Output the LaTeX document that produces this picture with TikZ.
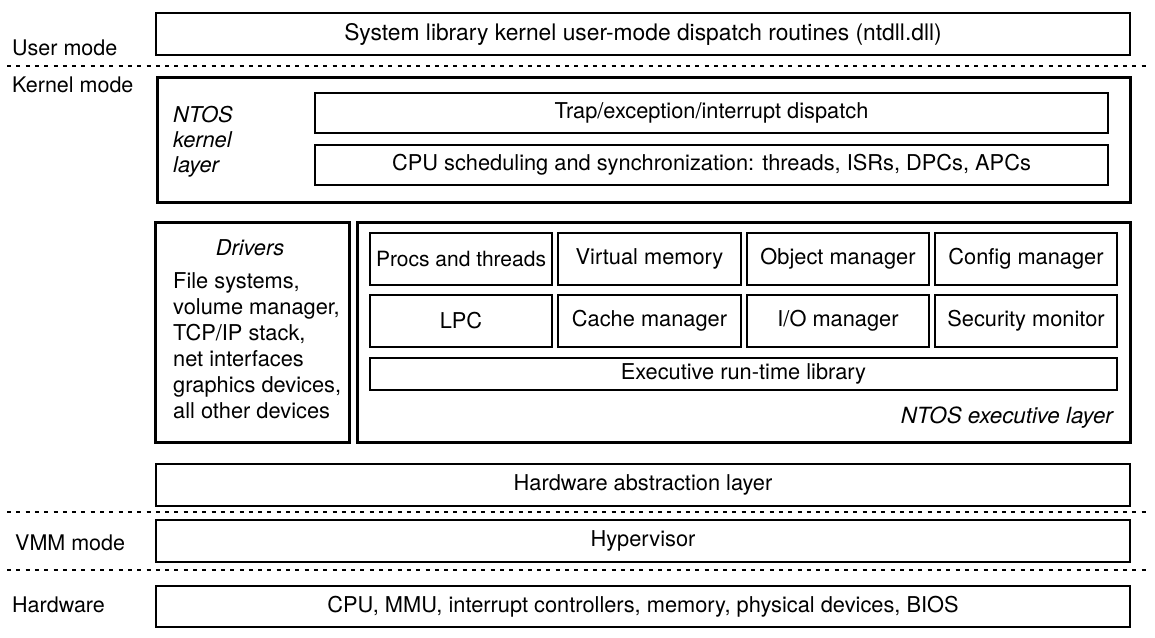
\documentclass[tikz,border=0pt]{standalone}
\usepackage{fontspec}
\setmainfont{TeX Gyre Heros}
\usepackage{tikz}

\begin{document}
\begin{tikzpicture}
[x=1pt,y=-1pt,
box/.style={draw,line width=1.3pt,inner sep=0pt,font=\fontsize{21.8}{26}\selectfont},
layer/.style={draw,line width=3pt,inner sep=0pt},
mode/.style={anchor=base west,inner sep=0pt,font=\fontsize{21.5}{26}\selectfont},
sep/.style={line width=1.2pt,dash pattern=on 4pt off 5.3pt},]
\useasboundingbox (0,0) rectangle (1155,637);

% mode labels
\node (um) at (12,55)[mode]{User mode};
\node (km) at (12,92)[mode]{Kernel mode};
\node (vm) at (15,550)[mode]{VMM mode};
\node (hm) at (12,612)[mode]{Hardware};

% user mode
\node (user) at (643,34)[box,minimum width=974,minimum height=42,font=\fontsize{22.8}{26}\selectfont]{System library kernel user-mode dispatch routines (ntdll.dll)};

% kernel layer
\node (kern) at (643.5,139.5)[layer,minimum width=973,minimum height=125]{};
\node (kname) at (173,106.5)[anchor=north west,inner sep=0pt,align=left,font=\fontsize{21.8}{25}\selectfont\itshape]{NTOS\\kernel\\layer};
\node (trap) at (711.5,113)[box,minimum width=793,minimum height=40]{Trap/exception/interrupt dispatch};
\node (sched) at (711.5,165)[box,minimum width=793,minimum height=40]{CPU scheduling and synchronization: threads, ISRs, DPCs, APCs};

% drivers
\node (drv) at (252,332)[layer,minimum width=194,minimum height=220]{};
\node (dname) at (250,255)[anchor=base,inner sep=0pt,font=\fontsize{21.8}{26}\selectfont\itshape]{Drivers};
\node (dlist) at (173,272.5)[anchor=north west,inner sep=0pt,align=left,font=\fontsize{21.8}{26}\selectfont]{File systems,\\volume manager,\\TCP/IP stack,\\net interfaces\\graphics devices,\\all other devices};

% executive layer
\node (exec) at (743.5,332)[layer,minimum width=773,minimum height=220]{};
\node (procs) at (461,259)[box,minimum width=182,minimum height=52,font=\fontsize{21}{26}\selectfont]{Procs and threads};
\node (virt) at (649.5,259)[box,minimum width=183,minimum height=52]{Virtual memory};
\node (obj) at (838,259)[box,minimum width=182,minimum height=52]{Object manager};
\node (cfg) at (1026,259)[box,minimum width=182,minimum height=52]{Config manager};
\node (lpc) at (461,321)[box,minimum width=182,minimum height=52]{LPC};
\node (cache) at (649.5,321)[box,minimum width=183,minimum height=52]{Cache manager};
\node (io) at (838,321)[box,minimum width=182,minimum height=52]{I/O manager};
\node (sec) at (1026,321)[box,minimum width=182,minimum height=52]{Security monitor};
\node (rtl) at (743.5,374)[box,minimum width=747,minimum height=32]{Executive run-time library};
\node (ename) at (1113,423)[anchor=base east,inner sep=0pt,font=\fontsize{22.3}{26}\selectfont\itshape]{NTOS executive layer};

\node (hal) at (643,485)[box,minimum width=974,minimum height=42]{Hardware abstraction layer};
\node (hyp) at (643,541)[box,minimum width=974,minimum height=42]{Hypervisor};
\node (hw) at (643,606.5)[box,minimum width=974,minimum height=41]{CPU, MMU, interrupt controllers, memory, physical devices, BIOS};

% mode boundaries
\coordinate (s1l) at (7,66);
\coordinate (s1r) at (1147,66);
\coordinate (s2l) at (7,512);
\coordinate (s2r) at (1147,512);
\coordinate (s3l) at (7,570);
\coordinate (s3r) at (1147,570);
\draw [sep] (s1l)--(s1r);
\draw [sep] (s2l)--(s2r);
\draw [sep] (s3l)--(s3r);

\end{tikzpicture}
\end{document}
